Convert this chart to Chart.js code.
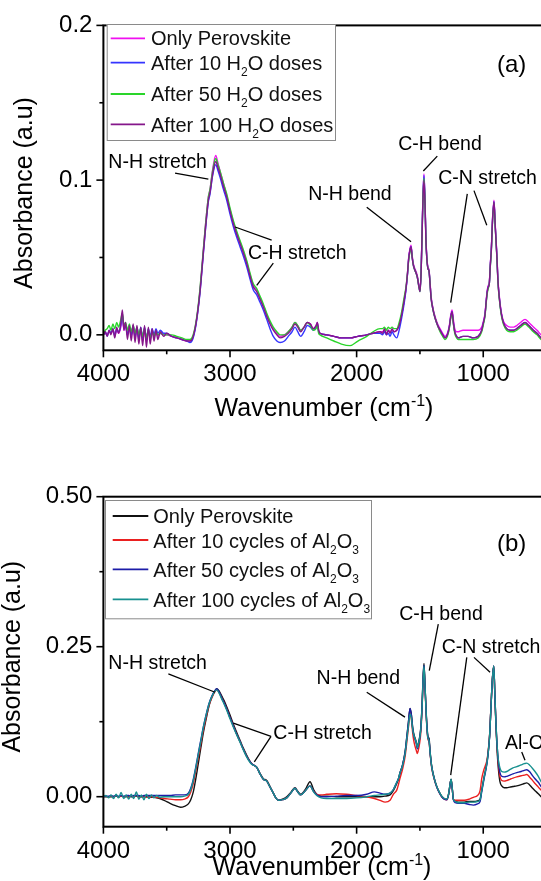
<!DOCTYPE html>
<html><head><meta charset="utf-8">
<script src="https://cdn.jsdelivr.net/npm/chart.js@4.4.1/dist/chart.umd.min.js"></script>
<style>
html,body{margin:0;padding:0;width:541px;height:881px;overflow:hidden;background:#fff;}
.panel{position:absolute;left:0;width:600px;}
canvas{display:block;}
</style></head><body>
<div class="panel" style="top:0;height:440px"><canvas id="ca" width="600" height="440"></canvas></div>
<div class="panel" style="top:440px;height:441px"><canvas id="cb" width="600" height="441"></canvas></div>
<script>
// ---------- axis ticks ----------
const xTickValues = [4000,3500,3000,2500,2000,1500,1000,500];
const yTicksA = [0,0.05,0.1,0.15,0.2];
const yTickLabelsA = ['0.0','','0.1','','0.2'];
const yTicksB = [0,0.125,0.25,0.375,0.5];
const yTickLabelsB = ['0.00','','0.25','','0.50'];

// ---------- panel (a): H2O doses ----------
const namesA = ['Only Perovskite','After 10 H_2O doses','After 50 H_2O doses','After 100 H_2O doses'];
const wnA = [4000,3985,3970,3955,3940,3925,3910,3895,3880,3865,3850,3838,3825,3810,3795,3780,3765,3750,3735,3720,3705,3690,3675,3660,3645,3630,3615,3600,3585,3570,3550,3525,3500,
3460,3420,3380,3340,3316,3295,3276,3257,3237,3217,3197,3171,3158,3137,3113,3095,3079,3052,3026,3000,
2974,2947,2921,2895,2868,2842,2816,2790,2763,2737,2710,2684,2658,2630,2605,2570,2540,2510,2487,2465,
2442,2415,2390,2365,2342,2320,2310,2300,2289,2236,2180,2120,2052,1990,1920,1870,1815,1795,1780,1765,
1750,1736,1720,1705,1683,1664,1644,1625,1610,1598,1589,1578,1570,1561,1552,1541,1531,1520,1510,1499,
1490,1483,1475,1468,1460,1453,1446,1437,1428,1420,1412,1396,1381,1360,1341,1320,1302,1283,1268,1256,
1246,1236,1225,1210,1197,1160,1120,1080,1040,1012,998,986,976,968,960,952,944,936,926,915,
905,893,883,873,858,841,815,788,760,735,705,670,640,604,575,543,500,450,400];
const onlyPerovskiteA = [0,0.001,0,0.002,0.001,0.003,0,0.003,0.001,0.004,0.012,0.003,0.006,0,0.004,-0.001,0.005,-0.002,0.004,-0.003,0.004,-0.004,0.003,-0.004,0.003,-0.003,0.002,-0.002,0.002,-0.001,0.001,0,0,
-0.001,-0.002,-0.003,-0.004,-0.004,-0.002,0.004,0.014,0.029,0.048,0.068,0.089,0.094,0.107,0.116,0.111,0.106,0.098,0.090,0.081,
0.073,0.066,0.060,0.054,0.047,0.039,0.032,0.029,0.024,0.019,0.013,0.008,0.004,0.001,-0.001,0,0.002,0.005,0.008,0.006,
0.003,0.005,0.008,0.007,0.004,0.006,0.008,0.003,0.001,0,-0.001,-0.002,-0.002,-0.001,0,0.001,0.002,0.002,0.003,0.001,
0.003,0.002,0.003,0.002,0.003,0.006,0.013,0.022,0.030,0.040,0.050,0.056,0.058,0.051,0.046,0.043,0.041,0.038,0.033,0.029,
0.043,0.067,0.093,0.104,0.088,0.064,0.051,0.044,0.042,0.034,0.025,0.017,0.012,0.007,0.004,0.001,-0.001,0.001,0.006,0.013,
0.016,0.010,0.004,0.002,0.002,0.003,0.003,0.003,0.003,0.005,0.009,0.014,0.023,0.029,0.032,0.034,0.046,0.056,0.076,0.087,
0.071,0.053,0.035,0.025,0.015,0.009,0.006,0.005,0.005,0.006,0.008,0.010,0.008,0.005,0.003,0,-0.002,-0.003,-0.003];
const h2o10 = [0,0.002,-0.001,0.003,0.001,0.004,-0.001,0.004,0.002,0.005,0.013,0.004,0.006,0,0.005,0,0.006,-0.001,0.005,-0.002,0.005,-0.002,0.005,-0.003,0.004,-0.001,0.004,0,0.004,0.001,0.003,0.001,0.001,
-0.001,-0.002,-0.003,-0.004,-0.005,-0.003,0.003,0.013,0.027,0.046,0.065,0.086,0.091,0.103,0.110,0.106,0.102,0.094,0.087,0.078,
0.070,0.063,0.057,0.051,0.044,0.036,0.029,0.026,0.021,0.016,0.010,0.004,-0.001,-0.004,-0.005,-0.004,-0.001,0.002,0.005,0.002,
-0.001,0.002,0.006,0.005,0.003,0.005,0.007,0.002,0.001,0,-0.001,-0.002,-0.002,-0.001,0,0.001,0.001,0,0.002,0,
0.001,-0.001,0.002,0,-0.002,0.003,0.011,0.020,0.029,0.039,0.049,0.055,0.057,0.050,0.045,0.042,0.040,0.037,0.032,0.028,
0.042,0.066,0.092,0.103,0.087,0.063,0.050,0.043,0.041,0.033,0.024,0.016,0.011,0.006,0.003,0,-0.002,0,0.005,0.012,
0.015,0.008,0.002,-0.001,-0.002,-0.001,-0.001,-0.002,-0.001,0.003,0.008,0.013,0.022,0.028,0.031,0.033,0.045,0.055,0.075,0.086,
0.070,0.052,0.034,0.024,0.014,0.008,0.004,0.003,0.003,0.004,0.006,0.008,0.006,0.003,0.001,-0.002,-0.004,-0.005,-0.005];
const h2o50 = [0,0.003,0.004,0.006,0.003,0.007,0.004,0.008,0.005,0.009,0.014,0.006,0.008,0.003,0.007,0.002,0.006,0.001,0.005,0,0.004,-0.001,0.004,-0.002,0.003,-0.002,0.002,-0.001,0.002,0,0.001,0,0,
0,-0.001,-0.002,-0.003,-0.003,-0.001,0.005,0.015,0.030,0.049,0.068,0.089,0.094,0.106,0.114,0.110,0.106,0.098,0.091,0.082,
0.074,0.067,0.061,0.055,0.048,0.040,0.033,0.030,0.025,0.020,0.014,0.009,0.005,0.002,0,0,0.002,0.005,0.008,0.006,
0.003,0.005,0.008,0.006,0.003,0.004,0.006,0.001,0,-0.002,-0.004,-0.006,-0.007,-0.004,-0.001,0.002,0.004,0.004,0.005,0.003,
0.005,0.004,0.005,0.004,0.004,0.008,0.015,0.024,0.031,0.040,0.048,0.054,0.056,0.050,0.045,0.042,0.040,0.037,0.032,0.028,
0.042,0.065,0.090,0.101,0.086,0.062,0.050,0.043,0.041,0.033,0.024,0.016,0.011,0.006,0.002,-0.001,-0.003,-0.001,0.004,0.011,
0.014,0.007,0.001,-0.002,-0.003,-0.003,-0.003,-0.003,-0.002,0.002,0.007,0.012,0.021,0.027,0.030,0.033,0.044,0.054,0.074,0.085,
0.069,0.051,0.033,0.023,0.013,0.007,0.003,0.002,0.002,0.003,0.005,0.007,0.005,0.002,0,-0.003,-0.005,-0.006,-0.006];
const h2o100 = [0,0.002,-0.001,0.003,0,0.004,-0.002,0.005,0.001,0.006,0.016,0.003,0.008,-0.003,0.006,-0.004,0.007,-0.005,0.006,-0.006,0.005,-0.007,0.006,-0.008,0.005,-0.006,0.004,-0.004,0.003,-0.003,0.002,-0.001,0.001,
-0.001,-0.002,-0.003,-0.004,-0.004,-0.002,0.004,0.014,0.028,0.047,0.066,0.087,0.092,0.104,0.112,0.108,0.104,0.096,0.089,0.080,
0.072,0.065,0.059,0.053,0.046,0.038,0.031,0.028,0.023,0.018,0.012,0.007,0.003,0,-0.002,-0.001,0.001,0.004,0.007,0.005,
0.002,0.005,0.008,0.007,0.004,0.006,0.008,0.003,0.001,0,-0.001,-0.002,-0.002,-0.001,0,0.001,0.002,0.001,0.004,0,
0.003,0.001,0.004,0.002,0.003,0.006,0.013,0.022,0.030,0.040,0.049,0.055,0.057,0.050,0.045,0.042,0.040,0.037,0.032,0.028,
0.042,0.065,0.090,0.100,0.085,0.062,0.050,0.043,0.041,0.033,0.024,0.016,0.011,0.006,0.003,0,-0.002,0,0.005,0.012,
0.015,0.008,0.002,-0.001,-0.002,-0.001,-0.001,-0.002,-0.001,0.003,0.008,0.013,0.022,0.028,0.031,0.033,0.045,0.055,0.075,0.086,
0.070,0.052,0.034,0.024,0.014,0.008,0.004,0.003,0.003,0.004,0.006,0.008,0.006,0.003,0.001,-0.002,-0.004,-0.005,-0.005];

// ---------- panel (b): Al2O3 cycles ----------
const namesB = ['Only Perovskite','After 10 cycles of Al_2O_3','After 50 cycles of Al_2O_3','After 100 cycles of Al_2O_3'];
const wnB = [4000,3980,3960,3940,3920,3900,3880,3860,3840,3820,3800,3780,3760,3740,3720,3700,3680,3660,3640,3620,3600,3580,3555,
3520,3474,3430,3390,3360,3329,3310,3290,3270,3250,3230,3211,3184,3165,3145,3125,3105,3085,3066,3046,
3026,3000,2974,2947,2921,2895,2868,2848,2829,2809,2789,2763,2737,2710,2684,2658,2638,2618,2585,2552,
2520,2487,2465,2442,2405,2368,2340,2315,2280,2236,2160,2080,2000,1920,1860,1815,1775,1736,1710,1683,
1670,1657,1637,1617,1604,1591,1578,1567,1557,1549,1541,1530,1520,1512,1505,1494,1483,1475,1468,1460,
1453,1446,1437,1428,1418,1407,1387,1367,1348,1328,1308,1288,1276,1268,1260,1254,1245,1236,1220,1197,
1150,1110,1078,1045,1025,1012,995,978,968,960,950,939,928,917,908,899,890,881,868,854,
835,814,790,765,735,700,675,656,635,614,591,565,543,500,450,400];
const onlyPerovskiteB = [0,0,0,0,0,0.001,0,0.001,0,0,0.001,0,0,0.001,0,0,0,0,0,-0.001,-0.001,-0.002,-0.003,
-0.006,-0.011,-0.015,-0.0175,-0.016,-0.012,-0.005,0.008,0.030,0.056,0.082,0.106,0.134,0.152,0.165,0.174,0.180,0.176,0.168,0.160,
0.150,0.136,0.121,0.107,0.094,0.081,0.069,0.061,0.055,0.052,0.049,0.039,0.030,0.027,0.017,0.006,-0.002,-0.006,-0.004,0.000,
0.007,0.015,0.009,0.004,0.012,0.025,0.012,0.004,0.001,0.001,0.000,0.000,0.000,0.000,0.000,0.000,0.001,0.003,0.010,0.022,
0.029,0.040,0.053,0.075,0.099,0.124,0.147,0.136,0.115,0.105,0.099,0.092,0.082,0.089,0.096,0.113,0.153,0.199,0.222,0.187,
0.152,0.123,0.101,0.097,0.072,0.051,0.031,0.017,0.008,0.001,-0.003,-0.004,0.002,0.012,0.024,0.029,0.015,-0.004,-0.008,-0.009,
-0.009,-0.008,-0.008,-0.007,-0.004,0.011,0.031,0.049,0.062,0.076,0.101,0.149,0.196,0.218,0.168,0.115,0.075,0.048,0.025,0.018,
0.015,0.015,0.016,0.017,0.018,0.020,0.022,0.023,0.020,0.015,0.010,0.005,0.000,-0.006,-0.010,-0.012];
const al2o3_10 = [0,0.001,-0.001,0.001,0,0.002,-0.001,0.001,0,0.001,-0.001,0.001,0,0.002,-0.001,0,0.001,-0.001,0,0,-0.001,-0.001,-0.002,
-0.003,-0.004,-0.005,-0.005,-0.004,0.000,0.008,0.022,0.043,0.066,0.089,0.111,0.137,0.153,0.164,0.173,0.178,0.173,0.165,0.156,
0.146,0.132,0.118,0.104,0.092,0.079,0.067,0.060,0.055,0.052,0.049,0.038,0.029,0.026,0.016,0.006,-0.002,-0.006,-0.005,-0.002,
0.006,0.014,0.008,0.003,0.010,0.018,0.009,0.004,0.003,0.004,0.005,0.004,0.002,0.000,-0.003,-0.006,-0.009,-0.006,0.004,0.011,
0.020,0.031,0.046,0.067,0.090,0.115,0.140,0.128,0.106,0.094,0.086,0.078,0.072,0.078,0.086,0.104,0.146,0.192,0.215,0.182,
0.148,0.118,0.096,0.091,0.068,0.048,0.029,0.016,0.007,0.000,-0.004,-0.005,0.001,0.011,0.023,0.028,0.014,-0.004,-0.006,-0.006,
-0.006,-0.004,-0.001,0.002,0.010,0.030,0.045,0.055,0.064,0.078,0.102,0.149,0.195,0.217,0.169,0.118,0.080,0.055,0.034,0.027,
0.026,0.027,0.029,0.031,0.033,0.035,0.036,0.037,0.033,0.028,0.022,0.016,0.011,0.003,-0.002,-0.004];
const al2o3_50 = [0,0.001,0.001,0.002,0.001,0.002,0.001,0.002,0.001,0.002,0.002,0.001,0.002,0.002,0.002,0.001,0.002,0.002,0.002,0.002,0.002,0.002,0.002,
0.002,0.002,0.003,0.003,0.003,0.006,0.014,0.029,0.050,0.073,0.095,0.116,0.141,0.156,0.167,0.175,0.180,0.174,0.165,0.156,
0.146,0.132,0.118,0.104,0.092,0.079,0.067,0.060,0.055,0.052,0.049,0.038,0.029,0.026,0.016,0.006,-0.002,-0.006,-0.005,-0.002,
0.006,0.014,0.008,0.003,0.010,0.018,0.009,0.003,0.000,0.000,0.001,0.002,0.002,0.004,0.008,0.006,0.004,0.006,0.012,0.024,
0.030,0.040,0.053,0.074,0.098,0.123,0.147,0.135,0.113,0.103,0.097,0.090,0.080,0.087,0.094,0.111,0.151,0.197,0.219,0.186,
0.151,0.121,0.099,0.094,0.070,0.050,0.030,0.016,0.007,0.000,-0.004,-0.005,0.001,0.011,0.023,0.028,0.014,-0.005,-0.010,-0.011,
-0.011,-0.013,-0.014,-0.012,-0.008,0.008,0.028,0.046,0.059,0.074,0.099,0.148,0.195,0.218,0.170,0.120,0.084,0.060,0.040,0.034,
0.033,0.034,0.036,0.038,0.040,0.042,0.044,0.045,0.042,0.036,0.030,0.024,0.017,0.008,0.003,0.001];
const al2o3_100 = [0,0.002,-0.002,0.003,-0.003,0.004,-0.002,0.007,-0.003,0.003,-0.004,0.004,-0.003,0.008,-0.004,0.003,-0.005,0.004,-0.003,0.003,-0.002,0.002,-0.001,
0,0,0,0,0.001,0.004,0.012,0.027,0.048,0.071,0.093,0.115,0.140,0.155,0.166,0.174,0.178,0.172,0.163,0.154,
0.144,0.130,0.116,0.103,0.091,0.078,0.066,0.059,0.054,0.052,0.049,0.038,0.029,0.026,0.016,0.006,-0.002,-0.006,-0.005,-0.002,
0.006,0.014,0.008,0.003,0.010,0.018,0.008,0.002,-0.002,-0.003,-0.003,-0.003,-0.002,0.000,0.002,0.003,0.004,0.006,0.012,0.024,
0.030,0.040,0.052,0.072,0.095,0.118,0.138,0.130,0.112,0.103,0.098,0.092,0.082,0.088,0.094,0.110,0.150,0.195,0.218,0.185,
0.150,0.120,0.098,0.093,0.070,0.050,0.030,0.017,0.008,0.001,-0.003,-0.004,0.002,0.012,0.024,0.029,0.015,-0.004,-0.008,-0.010,
-0.010,-0.009,-0.009,-0.008,-0.005,0.010,0.030,0.048,0.060,0.075,0.100,0.148,0.195,0.218,0.170,0.120,0.085,0.062,0.048,0.042,
0.041,0.042,0.045,0.048,0.050,0.053,0.055,0.056,0.053,0.048,0.042,0.034,0.025,0.015,0.008,0.005];

// ---------- annotations (data coordinates) ----------
const notesA = [
  {t:'N-H stretch', wn:3961, a:0.111, align:'left'},
  {t:'C-H stretch', wn:2858, a:0.0527, align:'left'},
  {t:'N-H bend', wn:1723, a:0.0909, align:'right'},
  {t:'C-H bend', wn:1671, a:0.1231, align:'left'},
  {t:'C-N stretch', wn:1355, a:0.1007, align:'left'},
  {t:'(a)', wn:891, a:0.174, align:'left', big:true}
];
const leadersA = [[3434,0.1045,3171,0.1007],[2960,0.0697,2671,0.0612],[2658,0.0463,2789,0.0320],
  [1920,0.0825,1570,0.0601],[1363,0.1155,1473,0.1059],[1126,0.0911,1257,0.0208],[1073,0.0932,972,0.0708]];
const notesB = [
  {t:'N-H stretch', wn:3961, a:0.2212, align:'left'},
  {t:'C-H stretch', wn:2658, a:0.1051, align:'left'},
  {t:'N-H bend', wn:1657, a:0.1963, align:'right'},
  {t:'C-H bend', wn:1663, a:0.303, align:'left'},
  {t:'C-N stretch', wn:1328, a:0.2488, align:'left'},
  {t:'Al-O', wn:828, a:0.0886, align:'left'},
  {t:'(b)', wn:891, a:0.4201, align:'left', big:true}
];
const leadersB = [[3487,0.2046,3118,0.1741],[2974,0.1227,2676,0.1007],[2676,0.1007,2808,0.0580],
  [1920,0.1741,1618,0.1327],[1355,0.2876,1426,0.2101],[1130,0.2322,1257,0.036],[1073,0.2322,946,0.2073],[696,0.0746,670,0.0609]];

// ---------- rendering ----------
const FONT = "'Liberation Sans', Arial, Helvetica, sans-serif";
Chart.defaults.font.family = FONT;
Chart.defaults.color = '#000';

function parseRich(str){
  const segs=[];
  for(let i=0;i<str.length;i++){
    const c=str[i];
    if(c==='_'){segs.push({t:str[i+1],k:'sub'});i++;}
    else if(c==='^'&&str[i+1]==='{'){const e=str.indexOf('}',i);segs.push({t:str.slice(i+2,e),k:'sup'});i=e;}
    else{const l=segs[segs.length-1]; if(l&&l.k==='n') l.t+=c; else segs.push({t:c,k:'n'});}
  }
  return segs;
}
function drawRich(ctx,str,x,y,size,align,baseline){
  const segs=parseRich(str);
  const small=Math.round(size*0.62);
  let w=0;
  segs.forEach(s=>{ctx.font=(s.k==='n'?size:small)+'px '+FONT; s.w=ctx.measureText(s.t).width; w+=s.w;});
  let cx = align==='center'? x-w/2 : align==='right'? x-w : x;
  ctx.textAlign='left'; ctx.textBaseline=baseline||'alphabetic';
  segs.forEach(s=>{
    ctx.font=(s.k==='n'?size:small)+'px '+FONT;
    let dy=0; if(s.k==='sub') dy=size*0.3; if(s.k==='sup') dy=-size*0.42;
    ctx.fillText(s.t,cx,y+dy); cx+=s.w;
  });
}

function decor(cfg){
  return {id:'decor'+cfg.id, afterDraw(chart){
    const ctx=chart.ctx, ca=chart.chartArea, xs=chart.scales.x, ys=chart.scales.y;
    ctx.save();
    ctx.strokeStyle='#000'; ctx.fillStyle='#000';
    // frame
    ctx.lineWidth=2;
    ctx.strokeRect(ca.left,ca.top,ca.right-ca.left,ca.bottom-ca.top);
    // tick marks
    ctx.lineWidth=1.6;
    xTickValues.forEach(v=>{
      const px=xs.getPixelForValue(v), len=(v%1000===0)?7:4;
      ctx.beginPath();ctx.moveTo(px,ca.bottom);ctx.lineTo(px,ca.bottom+len);ctx.stroke();
    });
    cfg.yTicks.forEach((v,i)=>{
      const py=ys.getPixelForValue(v), len=cfg.yLabels[i]?7:4;
      ctx.beginPath();ctx.moveTo(ca.left,py);ctx.lineTo(ca.left-len,py);ctx.stroke();
    });
    // legend
    const L=cfg.legend;
    ctx.fillStyle='#fff'; ctx.fillRect(L.l,L.t,L.r-L.l,L.b-L.t);
    ctx.strokeStyle='#8a8a8a'; ctx.lineWidth=1; ctx.strokeRect(L.l+0.5,L.t+0.5,L.r-L.l,L.b-L.t);
    cfg.names.forEach((n,i)=>{
      ctx.strokeStyle=cfg.colors[i]; ctx.lineWidth=1.8;
      ctx.beginPath();ctx.moveTo(L.lx1,L.ly[i]);ctx.lineTo(L.lx2,L.ly[i]);ctx.stroke();
      ctx.fillStyle='#111';
      drawRich(ctx,n,L.tx,L.base[i],20,'left');
    });
    // annotation leaders
    ctx.strokeStyle='#000'; ctx.lineWidth=1.3;
    cfg.leaders.forEach(l=>{
      ctx.beginPath();ctx.moveTo(xs.getPixelForValue(l[0]),ys.getPixelForValue(l[1]));
      ctx.lineTo(xs.getPixelForValue(l[2]),ys.getPixelForValue(l[3]));ctx.stroke();
    });
    ctx.fillStyle='#000';
    cfg.notes.forEach(n=>{
      ctx.font=(n.big?24:19.5)+'px '+FONT; ctx.textAlign=n.align; ctx.textBaseline='middle';
      ctx.fillText(n.t,xs.getPixelForValue(n.wn),ys.getPixelForValue(n.a));
    });
    // axis titles
    ctx.fillStyle='#000';
    drawRich(ctx,'Wavenumber (cm^{-1})',cfg.xTitle[0],cfg.xTitle[1],25,'center');
    ctx.translate(cfg.yTitle[0],cfg.yTitle[1]); ctx.rotate(-Math.PI/2);
    ctx.font='25px '+FONT; ctx.textAlign='center'; ctx.textBaseline='alphabetic';
    ctx.fillText('Absorbance (a.u)',0,0);
    ctx.restore();
  }};
}

function buildPanel(cfg){
  const el=document.getElementById(cfg.id);
  const W=el.width, H=el.height;
  const datasets=cfg.series.map((s,i)=>({
    label:cfg.names[i].replace(/_/g,''),
    data:cfg.wn.map((w,j)=>({x:w,y:s[j]})),
    borderColor:cfg.colors[i], borderWidth:1.4, pointRadius:0, fill:false,
    cubicInterpolationMode:'monotone', order:cfg.series.length-1-i
  }));
  new Chart(el,{
    type:'line',
    data:{datasets},
    options:{
      responsive:false, animation:false, devicePixelRatio:1, events:[],
      layout:{padding:{top:cfg.area.top,right:W-cfg.area.right,left:0,bottom:0}},
      plugins:{legend:{display:false},tooltip:{enabled:false}},
      scales:{
        x:{type:'linear',reverse:true,min:400,max:4000,
          grid:{display:false,drawTicks:false},border:{display:false},
          afterBuildTicks:s=>{s.ticks=xTickValues.map(v=>({value:v}));},
          afterFit:s=>{s.height=H-cfg.area.bottom;},
          ticks:{padding:10,autoSkip:false,maxRotation:0,minRotation:0,color:'#000',font:{size:24,family:FONT},
            callback:v=>(v%1000===0?String(v):'')}
        },
        y:{type:'linear',min:cfg.yMin,max:cfg.yMax,
          grid:{display:false,drawTicks:false},border:{display:false},
          afterBuildTicks:s=>{s.ticks=cfg.yTicks.map(v=>({value:v}));},
          afterFit:s=>{s.width=cfg.area.left;},
          ticks:{padding:11,autoSkip:false,color:'#000',font:{size:24,family:FONT},
            callback:v=>cfg.yLabels[cfg.yTicks.indexOf(v)]}
        }
      }
    },
    plugins:[decor(cfg)]
  });
}

buildPanel({
  id:'ca', wn:wnA, series:[onlyPerovskiteA,h2o10,h2o50,h2o100], names:namesA,
  colors:['#f010f0','#3535ff','#2ad52a','#85178a'],
  area:{left:103.4,top:21.4,right:559.2,bottom:350.3},
  yMin:-0.01,yMax:0.2,yTicks:yTicksA,yLabels:yTickLabelsA,
  legend:{l:106.7,t:24,r:335,b:140,lx1:110.7,lx2:145,tx:151,ly:[38.3,62.7,94,124.3],base:[45,70,101,131.7]},
  notes:notesA, leaders:leadersA, xTitle:[324,416], yTitle:[31.5,193]
});
buildPanel({
  id:'cb', wn:wnB, series:[onlyPerovskiteB,al2o3_10,al2o3_50,al2o3_100], names:namesB,
  colors:['#111111','#ea2020','#1c1ca8','#17908f'],
  area:{left:103.4,top:56.7,right:559.2,bottom:386.7},
  yMin:-0.05,yMax:0.5,yTicks:yTicksB,yLabels:yTickLabelsB,
  legend:{l:105,t:60,r:371,b:178.3,lx1:112.7,lx2:148.3,tx:153.3,ly:[76,100,129.3,159.3],base:[83.3,108.3,137.3,167.3]},
  notes:notesB, leaders:leadersB, xTitle:[322,435], yTitle:[20,216.7]
});
</script>
</body></html>
